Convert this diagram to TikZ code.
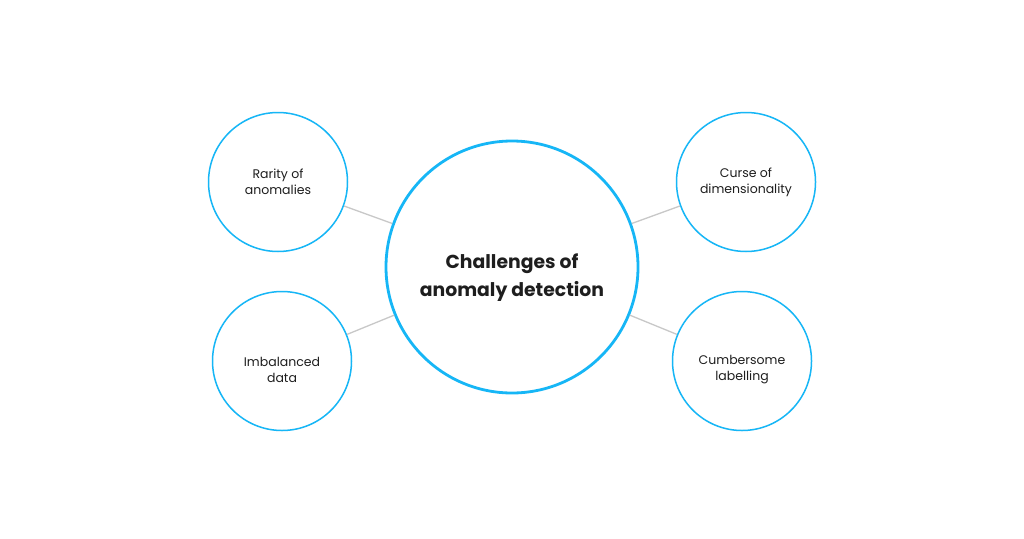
\documentclass[tikz,border=0pt]{standalone}
\usepackage{fontspec}
\setmainfont{Poppins}
\definecolor{ringblue}{RGB}{22,182,246}
\definecolor{linkgray}{RGB}{200,200,200}
\definecolor{txt}{RGB}{30,30,30}
\begin{document}
\begin{tikzpicture}[x=1pt,y=-1pt,
  small/.style={circle,draw=ringblue,line width=1.5pt,minimum size=139pt,inner sep=0pt,align=center,
    font=\fontsize{12.5}{16}\selectfont,text=txt},
  smalltext/.style={align=center,inner sep=0pt,font=\fontsize{12.5}{16}\selectfont,text=txt},
  big/.style={circle,draw=ringblue,line width=2.8pt,minimum size=252pt,inner sep=0pt},
  bigtext/.style={align=center,inner sep=0pt,font=\fontsize{18.8}{28}\selectfont\bfseries,text=txt},
  link/.style={draw=linkgray,line width=1.3pt}]
\useasboundingbox[fill=white] (0,0) rectangle (1024,538);
\node[big] (c) at (512,267) {};
\node[bigtext] (ct) at (512,278) {Challenges of\\anomaly detection};
\node[small] (r) at (278,182) {Rarity of\\anomalies};
\node[small] (d) at (746,182) {Curse of\\dimensionality};
\node[small] (i) at (282,361) {};
\node[smalltext] (it) at (282,370) {Imbalanced\\data};
\node[small] (l) at (742,361) {};
\node[smalltext] (lt) at (742,370) {Cumbersome\\labelling};
\draw[link] (r) -- (c);
\draw[link] (d) -- (c);
\draw[link] (i) -- (c);
\draw[link] (l) -- (c);
\end{tikzpicture}
\end{document}
